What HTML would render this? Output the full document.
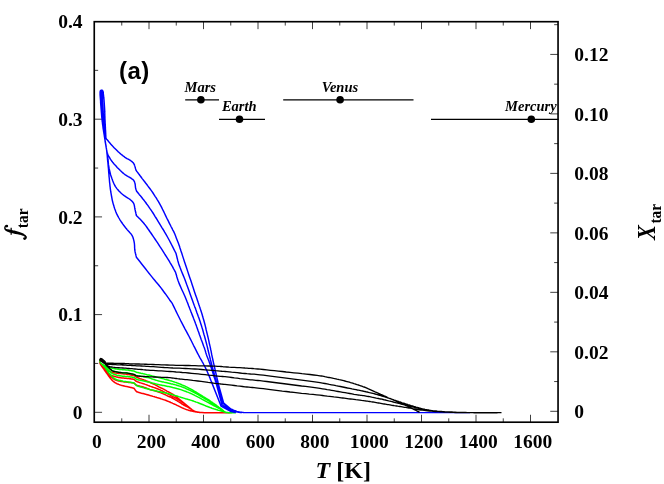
<!DOCTYPE html>
<html><head><meta charset="utf-8"><title>chart</title>
<style>
html,body{margin:0;padding:0;background:#fff;}
svg{display:block;will-change:transform;}
text{font-family:"Liberation Serif",serif;font-weight:bold;fill:#000;}
.sans{font-family:"Liberation Sans",sans-serif;}
</style></head><body>
<svg width="664" height="484" viewBox="0 0 664 484">
<rect width="664" height="484" fill="#fff"/>
<path d="M121.75 21.7v3.85M121.75 422.2v-3.85M149.00 21.7v7.45M149.00 422.2v-7.45M176.25 21.7v3.85M176.25 422.2v-3.85M203.50 21.7v7.45M203.50 422.2v-7.45M230.75 21.7v3.85M230.75 422.2v-3.85M258.00 21.7v7.45M258.00 422.2v-7.45M285.25 21.7v3.85M285.25 422.2v-3.85M312.50 21.7v7.45M312.50 422.2v-7.45M339.75 21.7v3.85M339.75 422.2v-3.85M367.00 21.7v7.45M367.00 422.2v-7.45M394.25 21.7v3.85M394.25 422.2v-3.85M421.50 21.7v7.45M421.50 422.2v-7.45M448.75 21.7v3.85M448.75 422.2v-3.85M476.00 21.7v7.45M476.00 422.2v-7.45M503.25 21.7v3.85M503.25 422.2v-3.85M530.50 21.7v7.45M530.50 422.2v-7.45M94.25 412.30h7.8M94.25 363.45h3.9M94.25 314.60h7.8M94.25 265.75h3.9M94.25 216.90h7.8M94.25 168.05h3.9M94.25 119.20h7.8M94.25 70.35h3.9M558.05 411.30h-7.8M558.05 381.56h-3.9M558.05 351.82h-7.8M558.05 322.08h-3.9M558.05 292.34h-7.8M558.05 262.60h-3.9M558.05 232.86h-7.8M558.05 203.12h-3.9M558.05 173.38h-7.8M558.05 143.64h-3.9M558.05 113.90h-7.8M558.05 84.16h-3.9M558.05 54.42h-7.8M558.05 24.68h-3.9" stroke="#000" stroke-width="0.75" fill="none"/>
<path d="M100.0 360.0L100.0 360.4L100.0 360.9L99.9 361.3L99.9 361.7L99.9 362.2L99.9 362.6L100.0 363.0L100.1 363.4L100.3 363.8L100.5 364.2L100.8 364.5L101.1 364.9L101.4 365.2L101.7 365.6L102.1 365.9L102.4 366.2L102.8 366.5L103.1 366.8L103.5 367.1L103.9 367.4L104.3 367.7L104.7 368.0L105.1 368.3L105.5 368.6L105.9 368.9L106.4 369.2L106.8 369.5L107.2 369.9L107.7 370.2L108.1 370.5L108.6 370.7L109.0 371.0L109.4 371.2L109.9 371.4L110.3 371.6L110.7 371.8L111.2 372.0L111.6 372.1L112.1 372.3L112.5 372.4L112.9 372.5L113.3 372.6L113.6 372.7L114.0 372.7L114.4 372.8L114.8 372.9L115.2 372.9L115.6 373.0L116.3 373.1L117.0 373.2L117.8 373.3L118.6 373.4L119.4 373.4L120.2 373.5L121.0 373.6L121.8 373.7L122.5 373.8L123.1 373.8L123.8 373.9L124.5 374.0L125.1 374.1L125.8 374.1L126.4 374.2L127.0 374.3L127.5 374.4L128.1 374.5L128.6 374.6L129.1 374.6L129.6 374.7L130.1 374.8L130.5 374.9L131.0 375.0L131.4 375.1L131.8 375.2L132.2 375.2L132.5 375.3L132.9 375.4L133.3 375.5L133.6 375.5L134.0 375.6L134.2 375.7L134.3 375.8L134.5 375.9L134.7 376.0L134.8 376.1L135.0 376.2L135.1 376.3L135.3 376.4L135.5 376.5L135.6 376.6L135.8 376.7L135.9 376.8L136.1 376.9L136.2 377.0L136.4 377.1L136.5 377.2L136.9 377.4L137.3 377.5L137.8 377.7L138.2 377.9L138.6 378.1L139.0 378.2L139.5 378.4L140.0 378.6L140.7 378.9L141.5 379.1L142.4 379.4L143.3 379.7L144.1 380.0L145.0 380.3L145.8 380.6L146.5 380.9L147.0 381.1L147.4 381.3L147.9 381.5L148.3 381.7L148.7 381.9L149.1 382.1L149.5 382.3L150.0 382.5L150.6 382.7L151.1 383.0L151.7 383.2L152.3 383.5L153.0 383.8L153.6 384.0L154.2 384.3L154.8 384.6L155.5 384.9L156.1 385.3L156.8 385.7L157.5 386.1L158.1 386.5L158.8 386.9L159.4 387.2L160.0 387.5L160.4 387.7L160.8 387.9L161.2 388.0L161.5 388.1L161.9 388.3L162.2 388.4L162.6 388.6L163.0 388.8L163.6 389.1L164.1 389.4L164.8 389.8L165.4 390.2L166.0 390.5L166.6 390.9L167.2 391.3L167.8 391.6L168.3 391.8L168.7 392.1L169.2 392.3L169.6 392.5L170.0 392.7L170.4 392.9L170.9 393.2L171.3 393.4L171.8 393.7L172.2 393.9L172.7 394.2L173.1 394.5L173.6 394.8L174.0 395.1L174.5 395.4L174.9 395.7L192.2 409.8L192.5 410.0L192.8 410.2L193.0 410.4L193.3 410.5L193.6 410.7L193.9 410.9L194.2 411.1L194.5 411.2L194.9 411.4L195.3 411.5L195.7 411.6L196.2 411.7L196.6 411.8L197.1 411.9L197.5 412.0L198.0 412.1L198.5 412.2L198.9 412.3L199.3 412.3L199.7 412.4L200.2 412.5L200.7 412.5L201.3 412.6L202.0 412.6L204.4 412.8L207.5 412.8L211.2 412.8L215.3 412.8L219.5 412.7L223.8 412.7L228.1 412.7L232.0 412.6 M100.0 360.0L100.0 360.4L100.0 360.9L100.0 361.3L99.9 361.7L99.9 362.2L99.9 362.6L100.0 363.0L100.1 363.4L100.3 363.8L100.5 364.2L100.8 364.6L101.1 365.0L101.4 365.4L101.7 365.8L102.1 366.2L102.4 366.6L102.7 367.0L103.1 367.4L103.4 367.8L103.8 368.2L104.2 368.6L104.6 369.0L104.9 369.4L105.3 369.8L105.7 370.2L106.1 370.7L106.5 371.1L106.9 371.6L107.3 372.0L107.7 372.4L108.1 372.8L108.5 373.2L108.9 373.5L109.3 373.9L109.8 374.2L110.2 374.5L110.6 374.8L111.1 375.1L111.5 375.4L112.0 375.6L112.4 375.8L112.9 376.0L113.3 376.1L113.7 376.2L114.2 376.3L114.6 376.5L115.1 376.6L115.6 376.7L116.3 376.9L117.0 377.0L117.8 377.2L118.6 377.4L119.4 377.5L120.2 377.7L121.0 377.8L121.8 377.9L122.5 378.0L123.1 378.1L123.8 378.1L124.5 378.2L125.1 378.2L125.8 378.3L126.4 378.3L127.0 378.4L127.5 378.5L128.1 378.5L128.6 378.6L129.1 378.6L129.6 378.7L130.1 378.8L130.5 378.8L131.0 378.9L131.4 379.0L131.8 379.0L132.2 379.1L132.5 379.1L132.9 379.2L133.3 379.3L133.6 379.3L134.0 379.4L134.2 379.5L134.3 379.7L134.5 379.8L134.7 380.0L134.8 380.1L135.0 380.2L135.1 380.4L135.3 380.5L135.5 380.6L135.6 380.8L135.8 380.9L135.9 381.0L136.1 381.1L136.2 381.3L136.4 381.4L136.5 381.5L136.9 381.6L137.4 381.8L137.8 381.9L138.2 382.1L138.6 382.2L139.1 382.4L139.5 382.5L140.0 382.7L140.7 382.9L141.4 383.1L142.2 383.4L143.0 383.6L143.8 383.9L144.6 384.1L145.3 384.4L146.0 384.6L146.5 384.8L147.1 385.0L147.5 385.2L148.0 385.4L148.5 385.6L149.0 385.8L149.5 386.0L150.0 386.2L150.6 386.4L151.2 386.6L151.8 386.8L152.4 387.0L153.0 387.2L153.6 387.4L154.2 387.6L154.8 387.8L155.4 388.0L156.1 388.3L156.7 388.5L157.3 388.8L158.0 389.0L158.6 389.3L159.3 389.6L160.0 389.9L160.9 390.3L161.9 390.8L163.0 391.3L164.0 391.8L165.1 392.4L166.1 392.9L167.0 393.4L167.8 393.8L168.3 394.1L168.7 394.3L169.1 394.5L169.5 394.7L169.8 394.9L170.2 395.1L170.6 395.4L171.0 395.6L171.5 395.9L172.1 396.2L172.7 396.5L173.3 396.8L173.9 397.1L174.5 397.5L175.1 397.8L175.7 398.1L176.3 398.4L176.8 398.7L177.3 399.0L177.9 399.3L178.4 399.6L178.9 400.0L179.5 400.3L180.0 400.6L180.5 400.9L181.0 401.3L181.5 401.6L182.0 401.9L182.5 402.3L183.0 402.6L183.5 403.0L184.0 403.3L192.2 409.8L192.5 410.0L192.8 410.2L193.0 410.4L193.3 410.5L193.6 410.7L193.9 410.9L194.2 411.1L194.5 411.2L194.9 411.4L195.3 411.5L195.7 411.6L196.2 411.7L196.6 411.8L197.1 411.9L197.5 412.0L198.0 412.1L198.5 412.2L198.9 412.3L199.3 412.3L199.7 412.4L200.2 412.5L200.7 412.5L201.3 412.6L202.0 412.6L204.4 412.8L207.5 412.8L211.2 412.8L215.3 412.8L219.5 412.7L223.8 412.7L228.1 412.7L232.0 412.6 M100.0 360.0L100.0 360.4L100.0 360.9L99.9 361.3L99.9 361.7L99.9 362.2L99.9 362.6L100.0 363.0L100.1 363.4L100.3 363.8L100.5 364.2L100.8 364.6L101.1 365.0L101.5 365.4L101.9 365.8L102.2 366.2L102.6 366.6L103.0 367.1L103.5 367.5L103.9 368.0L104.4 368.4L104.9 368.9L105.4 369.3L105.9 369.8L106.3 370.3L106.7 370.8L107.1 371.4L107.5 371.9L107.9 372.5L108.2 373.0L108.6 373.6L109.0 374.1L109.4 374.6L109.8 375.1L110.2 375.5L110.5 376.0L110.9 376.4L111.3 376.8L111.7 377.3L112.1 377.6L112.5 378.0L112.9 378.3L113.2 378.6L113.6 378.9L113.9 379.1L114.3 379.3L114.7 379.6L115.1 379.8L115.6 380.0L116.3 380.3L117.0 380.5L117.8 380.7L118.6 380.9L119.4 381.0L120.2 381.2L121.0 381.4L121.8 381.5L122.5 381.6L123.1 381.7L123.8 381.8L124.5 381.9L125.1 382.0L125.8 382.1L126.4 382.1L127.0 382.2L127.5 382.3L128.1 382.3L128.6 382.4L129.1 382.4L129.6 382.4L130.1 382.5L130.5 382.5L131.0 382.6L131.4 382.7L131.8 382.7L132.2 382.8L132.5 382.8L132.9 382.9L133.3 383.0L133.6 383.0L134.0 383.1L134.2 383.2L134.3 383.4L134.5 383.5L134.7 383.6L134.8 383.8L135.0 383.9L135.1 384.1L135.3 384.2L135.5 384.3L135.6 384.5L135.8 384.6L135.9 384.7L136.1 384.9L136.2 385.0L136.4 385.2L136.5 385.3L136.9 385.4L137.4 385.5L137.8 385.6L138.2 385.7L138.6 385.8L139.1 385.9L139.5 386.1L140.0 386.2L140.7 386.4L141.5 386.6L142.3 386.8L143.1 387.0L143.9 387.3L144.7 387.5L145.5 387.8L146.2 388.0L146.7 388.2L147.2 388.4L147.7 388.6L148.1 388.8L148.6 389.0L149.0 389.2L149.5 389.4L150.0 389.6L150.6 389.8L151.2 389.9L151.8 390.1L152.4 390.2L153.0 390.4L153.6 390.5L154.2 390.6L154.8 390.8L155.3 390.9L155.8 391.1L156.2 391.2L156.7 391.4L157.1 391.5L157.6 391.7L158.1 391.8L158.6 392.0L159.3 392.3L160.1 392.6L160.9 392.9L161.8 393.2L162.6 393.5L163.4 393.9L164.1 394.2L164.8 394.5L165.2 394.7L165.6 394.9L166.0 395.1L166.4 395.3L166.7 395.5L167.1 395.7L167.4 395.9L167.8 396.1L168.2 396.3L168.6 396.4L169.0 396.6L169.4 396.7L169.8 396.9L170.2 397.0L170.6 397.2L171.0 397.4L171.6 397.7L172.1 398.0L172.7 398.3L173.3 398.6L173.9 399.0L174.5 399.3L175.1 399.7L175.7 400.0L176.3 400.3L176.8 400.6L177.4 401.0L177.9 401.3L178.4 401.6L179.0 401.9L179.5 402.3L180.0 402.6L180.5 402.9L180.9 403.2L181.3 403.5L181.8 403.8L182.2 404.1L182.6 404.4L183.1 404.7L183.5 405.0L183.9 405.2L184.4 405.5L184.8 405.7L185.2 405.9L185.7 406.1L186.1 406.3L186.6 406.5L187.0 406.7L192.2 409.8L192.5 410.0L192.8 410.2L193.0 410.4L193.3 410.5L193.6 410.7L193.9 410.9L194.2 411.1L194.5 411.2L194.9 411.4L195.3 411.5L195.7 411.6L196.2 411.7L196.6 411.8L197.1 411.9L197.5 412.0L198.0 412.1L198.5 412.2L198.9 412.3L199.3 412.3L199.7 412.4L200.2 412.5L200.7 412.5L201.3 412.6L202.0 412.6L204.4 412.8L207.5 412.8L211.2 412.8L215.3 412.8L219.5 412.7L223.8 412.7L228.1 412.7L232.0 412.6 M100.0 360.0L100.0 360.4L100.0 360.8L100.0 361.3L99.9 361.7L99.9 362.1L99.9 362.5L100.0 363.0L100.1 363.4L100.3 364.0L100.6 364.6L101.0 365.2L101.4 365.8L101.9 366.5L102.3 367.1L102.8 367.7L103.2 368.3L103.6 368.9L104.0 369.4L104.4 370.0L104.7 370.5L105.1 371.1L105.5 371.6L105.9 372.2L106.3 372.7L106.7 373.2L107.1 373.8L107.5 374.3L107.8 374.9L108.2 375.4L108.6 376.0L109.0 376.5L109.4 377.0L109.8 377.5L110.2 378.0L110.5 378.5L110.9 378.9L111.3 379.4L111.7 379.9L112.1 380.3L112.5 380.7L112.9 381.0L113.2 381.4L113.6 381.7L114.0 382.0L114.4 382.2L114.8 382.5L115.2 382.8L115.6 383.0L116.0 383.2L116.4 383.4L116.7 383.6L117.1 383.8L117.5 383.9L117.9 384.1L118.3 384.2L118.7 384.4L119.2 384.6L119.7 384.8L120.2 384.9L120.7 385.1L121.2 385.3L121.8 385.4L122.3 385.6L122.8 385.7L123.3 385.8L123.8 386.0L124.4 386.1L124.9 386.2L125.4 386.3L126.0 386.4L126.5 386.5L127.0 386.6L127.5 386.7L128.0 386.8L128.5 386.9L129.0 387.0L129.5 387.2L130.0 387.3L130.5 387.4L131.0 387.5L131.4 387.6L131.8 387.7L132.2 387.8L132.5 387.9L132.9 388.0L133.3 388.1L133.6 388.2L134.0 388.3L134.2 388.5L134.3 388.8L134.5 389.0L134.7 389.2L134.8 389.4L135.0 389.7L135.1 389.9L135.3 390.1L135.5 390.3L135.6 390.5L135.8 390.7L135.9 390.9L136.1 391.1L136.2 391.3L136.4 391.5L136.5 391.7L136.9 391.8L137.4 392.0L137.8 392.1L138.2 392.2L138.6 392.4L139.1 392.5L139.5 392.7L140.0 392.8L140.7 393.0L141.5 393.2L142.3 393.4L143.1 393.6L143.9 393.8L144.7 394.0L145.5 394.2L146.2 394.4L146.7 394.5L147.2 394.7L147.7 394.8L148.2 395.0L148.7 395.1L149.1 395.2L149.6 395.4L150.0 395.5L150.3 395.6L150.6 395.7L150.9 395.8L151.2 395.8L151.4 395.9L151.7 396.0L152.1 396.1L152.4 396.2L153.0 396.4L153.7 396.6L154.5 396.8L155.2 397.0L156.1 397.2L156.9 397.5L157.7 397.7L158.6 398.0L159.7 398.3L160.8 398.7L162.0 399.1L163.1 399.5L164.3 399.9L165.5 400.3L166.7 400.8L167.8 401.2L168.8 401.6L169.8 402.0L170.8 402.5L171.8 402.9L172.8 403.4L173.7 403.8L174.7 404.2L175.7 404.7L176.7 405.2L177.7 405.6L178.7 406.1L179.7 406.6L180.7 407.1L181.7 407.6L182.6 408.0L183.5 408.4L184.1 408.7L184.7 408.9L185.3 409.1L185.9 409.4L186.4 409.6L186.9 409.7L187.5 409.9L188.0 410.1L188.4 410.2L188.9 410.4L189.3 410.5L189.7 410.6L190.1 410.7L190.5 410.8L190.9 410.9L191.4 411.0L192.0 411.1L192.7 411.3L193.4 411.4L194.1 411.6L194.9 411.7L195.6 411.9L196.3 412.0L197.0 412.1L197.6 412.2L198.3 412.3L198.9 412.3L199.5 412.4L200.1 412.5L200.8 412.5L201.4 412.6L202.0 412.6" fill="none" stroke="#ff0000" stroke-width="1.5" stroke-linejoin="round" stroke-linecap="butt"/>
<path d="M100.0 359.8L100.0 360.2L100.0 360.5L100.0 360.9L100.1 361.3L100.1 361.6L100.1 362.0L100.2 362.3L100.3 362.6L100.4 362.8L100.6 363.0L100.8 363.2L100.9 363.4L101.2 363.5L101.4 363.7L101.6 363.8L101.8 364.0L102.0 364.2L102.3 364.3L102.6 364.5L102.9 364.6L103.1 364.8L103.4 364.9L103.7 365.1L104.0 365.2L104.3 365.3L104.6 365.5L104.9 365.6L105.2 365.8L105.5 365.9L105.9 366.0L106.2 366.2L106.5 366.3L106.8 366.4L107.2 366.6L107.6 366.7L107.9 366.9L108.3 367.0L108.7 367.1L109.0 367.3L109.4 367.4L109.8 367.5L110.2 367.6L110.6 367.8L110.9 367.9L111.3 368.0L111.7 368.1L112.1 368.2L112.5 368.3L112.9 368.4L113.2 368.5L113.6 368.5L114.0 368.6L114.4 368.7L114.7 368.8L115.2 368.8L115.6 368.9L116.3 369.0L117.0 369.1L117.8 369.2L118.6 369.3L119.4 369.4L120.2 369.4L121.0 369.5L121.8 369.6L122.5 369.7L123.1 369.7L123.8 369.8L124.5 369.8L125.1 369.8L125.8 369.9L126.4 369.9L127.0 370.0L127.5 370.1L128.1 370.1L128.6 370.2L129.1 370.3L129.6 370.4L130.1 370.4L130.5 370.5L131.0 370.6L131.4 370.7L131.8 370.7L132.2 370.8L132.5 370.9L132.9 370.9L133.3 371.0L133.6 371.0L134.0 371.1L134.2 371.2L134.3 371.2L134.5 371.3L134.7 371.4L134.8 371.5L135.0 371.5L135.1 371.6L135.3 371.7L135.5 371.8L135.6 371.8L135.8 371.9L135.9 372.0L136.1 372.1L136.2 372.1L136.4 372.2L136.5 372.3L136.9 372.4L137.3 372.5L137.8 372.5L138.2 372.6L138.6 372.7L139.0 372.8L139.5 372.9L140.0 373.0L140.8 373.2L141.8 373.4L142.8 373.6L143.8 373.9L144.9 374.1L146.0 374.4L147.0 374.7L148.0 374.9L148.9 375.1L149.8 375.3L150.6 375.6L151.5 375.8L152.3 376.0L153.2 376.2L154.0 376.4L154.8 376.6L155.5 376.8L156.1 376.9L156.8 377.1L157.4 377.2L158.0 377.4L158.6 377.6L159.3 377.7L160.0 377.9L160.9 378.1L161.8 378.4L162.8 378.6L163.8 378.9L164.8 379.2L165.8 379.4L166.8 379.7L167.8 380.0L168.8 380.3L169.8 380.6L170.8 380.9L171.8 381.1L172.7 381.4L173.7 381.7L174.7 382.1L175.7 382.4L176.7 382.8L177.7 383.1L178.6 383.5L179.6 383.9L180.6 384.3L181.6 384.7L182.5 385.1L183.5 385.5L184.5 385.9L185.5 386.4L186.5 386.9L187.5 387.4L188.5 387.9L189.4 388.4L190.4 388.9L191.4 389.4L192.4 389.9L193.3 390.5L194.3 391.1L195.2 391.6L196.2 392.2L197.2 392.8L198.2 393.5L199.2 394.1L200.5 394.9L201.8 395.7L203.2 396.6L204.6 397.4L206.1 398.3L207.4 399.1L208.8 400.0L210.0 400.8L211.0 401.5L211.9 402.1L212.8 402.8L213.7 403.4L214.6 404.0L215.4 404.6L216.2 405.2L217.0 405.8L217.6 406.2L218.1 406.7L218.6 407.1L219.1 407.5L219.6 407.9L220.1 408.2L220.5 408.6L221.0 409.0L221.4 409.3L221.8 409.7L222.2 410.0L222.6 410.4L223.0 410.7L223.4 411.0L223.8 411.3L224.2 411.5L224.6 411.7L225.0 411.9L225.3 412.1L225.7 412.2L226.1 412.3L226.5 412.5L227.0 412.6L227.5 412.6L228.4 412.8L229.3 412.8L230.4 412.8L231.5 412.8L232.6 412.7L233.8 412.7L234.9 412.7L236.0 412.6 M100.0 359.8L100.0 360.2L100.0 360.5L100.0 360.9L100.1 361.3L100.1 361.6L100.1 362.0L100.2 362.3L100.3 362.6L100.4 362.8L100.6 363.0L100.8 363.2L101.0 363.4L101.2 363.5L101.4 363.7L101.6 363.8L101.8 364.0L102.0 364.2L102.3 364.4L102.6 364.6L102.9 364.8L103.1 365.0L103.4 365.2L103.7 365.4L104.0 365.6L104.3 365.8L104.6 366.0L104.9 366.1L105.2 366.3L105.5 366.5L105.9 366.6L106.2 366.8L106.5 367.0L106.9 367.2L107.2 367.5L107.6 367.7L107.9 368.0L108.3 368.2L108.7 368.5L109.0 368.8L109.4 369.0L109.8 369.2L110.2 369.5L110.5 369.7L110.9 370.0L111.3 370.2L111.7 370.4L112.1 370.6L112.5 370.8L112.9 371.0L113.2 371.1L113.6 371.2L114.0 371.3L114.3 371.4L114.7 371.5L115.2 371.6L115.6 371.7L116.3 371.8L117.0 372.0L117.8 372.1L118.6 372.3L119.4 372.4L120.2 372.5L121.0 372.6L121.8 372.7L122.5 372.8L123.1 372.8L123.8 372.9L124.5 372.9L125.1 372.9L125.8 373.0L126.4 373.0L127.0 373.1L127.5 373.2L128.1 373.2L128.6 373.3L129.1 373.4L129.6 373.5L130.1 373.6L130.5 373.7L131.0 373.8L131.4 373.9L131.8 374.0L132.2 374.1L132.5 374.1L132.9 374.2L133.3 374.3L133.6 374.4L134.0 374.5L134.2 374.6L134.3 374.6L134.5 374.7L134.7 374.8L134.8 374.9L135.0 374.9L135.1 375.0L135.3 375.1L135.5 375.2L135.6 375.3L135.8 375.4L135.9 375.4L136.1 375.5L136.2 375.6L136.4 375.7L136.5 375.8L136.9 375.8L137.3 375.9L137.8 375.9L138.2 376.0L138.6 376.0L139.0 376.1L139.5 376.1L140.0 376.2L140.9 376.3L141.8 376.5L142.8 376.6L143.8 376.8L144.9 377.0L146.0 377.2L147.0 377.4L148.0 377.6L148.9 377.8L149.8 378.1L150.6 378.4L151.5 378.7L152.3 379.0L153.2 379.3L154.0 379.5L154.8 379.8L155.5 380.0L156.1 380.2L156.8 380.4L157.4 380.6L158.0 380.8L158.6 380.9L159.3 381.1L160.0 381.3L160.9 381.5L161.8 381.7L162.8 381.9L163.8 382.1L164.8 382.4L165.8 382.6L166.8 382.8L167.8 383.0L168.8 383.2L169.8 383.4L170.8 383.7L171.8 383.9L172.7 384.1L173.7 384.4L174.7 384.6L175.7 384.9L176.7 385.2L177.7 385.5L178.6 385.8L179.6 386.1L180.6 386.4L181.6 386.8L182.5 387.1L183.5 387.5L184.5 387.9L185.5 388.3L186.5 388.8L187.5 389.3L188.5 389.7L189.4 390.2L190.4 390.7L191.4 391.2L192.4 391.7L193.3 392.2L194.3 392.7L195.2 393.2L196.2 393.7L197.2 394.2L198.2 394.7L199.2 395.3L200.5 396.0L201.8 396.8L203.2 397.6L204.7 398.5L206.1 399.3L207.4 400.1L208.8 400.9L210.0 401.7L211.0 402.3L211.9 402.9L212.8 403.5L213.7 404.0L214.5 404.6L215.4 405.1L216.2 405.7L217.0 406.2L217.7 406.6L218.4 407.0L219.0 407.4L219.7 407.8L220.3 408.2L220.9 408.6L221.5 409.0L222.0 409.4L222.3 409.7L222.6 410.0L222.9 410.3L223.1 410.6L223.4 410.9L223.6 411.1L223.9 411.4L224.2 411.6L224.6 411.8L224.9 412.0L225.3 412.1L225.7 412.3L226.1 412.4L226.5 412.5L227.0 412.6L227.5 412.6L228.4 412.7L229.3 412.8L230.4 412.8L231.5 412.8L232.6 412.7L233.8 412.7L234.9 412.7L236.0 412.6 M100.0 359.8L100.0 360.2L100.0 360.5L100.0 360.9L100.1 361.3L100.1 361.6L100.1 362.0L100.2 362.3L100.3 362.6L100.4 362.8L100.6 363.0L100.8 363.2L101.0 363.3L101.2 363.5L101.4 363.6L101.6 363.8L101.8 364.0L102.0 364.2L102.2 364.5L102.4 364.7L102.7 365.0L102.9 365.2L103.1 365.5L103.4 365.7L103.6 366.0L103.9 366.3L104.2 366.6L104.6 367.0L104.9 367.3L105.2 367.6L105.6 368.0L105.9 368.3L106.3 368.6L106.7 368.9L107.1 369.2L107.4 369.6L107.8 369.9L108.2 370.2L108.6 370.5L109.0 370.8L109.4 371.1L109.8 371.4L110.2 371.8L110.5 372.1L110.9 372.4L111.3 372.8L111.7 373.1L112.1 373.3L112.5 373.6L112.9 373.8L113.2 374.0L113.6 374.1L114.0 374.3L114.3 374.4L114.7 374.5L115.2 374.7L115.6 374.8L116.3 375.0L117.0 375.2L117.8 375.4L118.6 375.5L119.4 375.7L120.2 375.8L121.0 376.0L121.8 376.1L122.5 376.2L123.1 376.2L123.8 376.3L124.5 376.3L125.1 376.4L125.8 376.4L126.4 376.4L127.0 376.5L127.5 376.6L128.1 376.6L128.6 376.7L129.1 376.7L129.6 376.8L130.1 376.9L130.5 376.9L131.0 377.0L131.4 377.1L131.8 377.1L132.2 377.2L132.5 377.2L132.9 377.3L133.3 377.4L133.6 377.4L134.0 377.5L134.2 377.6L134.3 377.7L134.5 377.8L134.7 377.9L134.8 378.1L135.0 378.2L135.1 378.3L135.3 378.4L135.5 378.5L135.6 378.6L135.8 378.8L135.9 378.9L136.1 379.0L136.2 379.1L136.4 379.3L136.5 379.4L136.9 379.5L137.3 379.6L137.7 379.7L138.2 379.8L138.6 379.9L139.0 380.0L139.5 380.1L140.0 380.2L140.8 380.4L141.8 380.6L142.8 380.8L143.8 381.0L144.9 381.2L146.0 381.5L147.0 381.7L148.0 381.9L148.9 382.1L149.8 382.3L150.6 382.5L151.5 382.8L152.3 383.0L153.2 383.2L154.0 383.4L154.8 383.6L155.5 383.8L156.1 383.9L156.8 384.1L157.4 384.3L158.0 384.4L158.6 384.6L159.3 384.7L160.0 384.9L160.9 385.1L161.8 385.3L162.8 385.5L163.8 385.6L164.8 385.8L165.8 386.0L166.8 386.2L167.8 386.4L168.8 386.6L169.8 386.8L170.8 387.0L171.8 387.2L172.7 387.5L173.7 387.7L174.7 387.9L175.7 388.2L176.7 388.5L177.7 388.7L178.6 389.0L179.6 389.3L180.6 389.6L181.6 389.9L182.5 390.3L183.5 390.6L184.5 391.0L185.5 391.3L186.5 391.7L187.5 392.1L188.5 392.4L189.4 392.9L190.4 393.3L191.4 393.7L192.4 394.2L193.3 394.6L194.3 395.1L195.2 395.6L196.2 396.1L197.2 396.6L198.2 397.2L199.2 397.7L200.5 398.4L201.8 399.1L203.2 399.8L204.6 400.6L206.0 401.4L207.4 402.1L208.8 402.8L210.0 403.5L211.0 404.0L211.9 404.5L212.8 405.0L213.7 405.5L214.5 406.0L215.4 406.4L216.2 406.9L217.0 407.3L217.7 407.7L218.4 408.0L219.0 408.3L219.7 408.6L220.3 409.0L220.9 409.3L221.5 409.6L222.0 409.9L222.3 410.1L222.6 410.4L222.9 410.6L223.1 410.9L223.4 411.1L223.6 411.3L223.9 411.5L224.2 411.7L224.6 411.9L224.9 412.0L225.3 412.2L225.7 412.3L226.1 412.4L226.5 412.5L227.0 412.6L227.5 412.6L228.4 412.7L229.3 412.8L230.4 412.8L231.5 412.8L232.6 412.7L233.8 412.7L234.9 412.7L236.0 412.6 M100.0 359.8L100.0 360.2L100.0 360.5L100.0 360.9L100.1 361.3L100.1 361.6L100.1 362.0L100.2 362.3L100.3 362.6L100.4 362.8L100.6 363.0L100.8 363.2L101.0 363.4L101.2 363.5L101.4 363.7L101.6 363.9L101.8 364.0L102.0 364.1L102.1 364.2L102.3 364.3L102.5 364.4L102.7 364.5L102.8 364.6L103.0 364.7L103.2 364.9L103.6 365.3L103.9 365.8L104.3 366.3L104.7 366.9L105.1 367.5L105.5 368.1L105.9 368.7L106.3 369.3L106.7 369.8L107.1 370.4L107.5 370.9L107.8 371.5L108.2 372.0L108.6 372.6L109.0 373.1L109.4 373.6L109.8 374.1L110.2 374.5L110.5 375.0L110.9 375.4L111.3 375.8L111.7 376.2L112.1 376.6L112.5 377.0L112.9 377.3L113.2 377.6L113.6 377.9L113.9 378.2L114.3 378.5L114.7 378.7L115.1 379.0L115.6 379.2L116.3 379.5L117.0 379.8L117.8 380.0L118.6 380.2L119.4 380.4L120.2 380.6L121.0 380.8L121.8 381.0L122.5 381.1L123.1 381.3L123.8 381.4L124.5 381.5L125.1 381.5L125.8 381.6L126.4 381.7L127.0 381.8L127.5 381.9L128.1 382.0L128.6 382.0L129.1 382.1L129.6 382.2L130.1 382.2L130.5 382.3L131.0 382.4L131.4 382.5L131.8 382.5L132.2 382.6L132.5 382.7L132.9 382.8L133.3 382.8L133.6 382.9L134.0 383.0L134.2 383.2L134.3 383.3L134.5 383.5L134.7 383.6L134.8 383.8L135.0 384.0L135.1 384.1L135.3 384.3L135.5 384.5L135.6 384.6L135.8 384.8L135.9 384.9L136.1 385.1L136.2 385.3L136.4 385.4L136.5 385.6L136.9 385.7L137.3 385.9L137.7 386.0L138.2 386.2L138.6 386.3L139.0 386.5L139.5 386.6L140.0 386.8L140.8 387.1L141.8 387.3L142.8 387.6L143.8 387.9L144.9 388.2L146.0 388.5L147.0 388.7L148.0 389.0L148.9 389.2L149.8 389.5L150.6 389.7L151.5 389.9L152.3 390.1L153.2 390.3L154.0 390.5L154.8 390.7L155.5 390.9L156.1 391.0L156.8 391.1L157.4 391.3L158.0 391.4L158.6 391.5L159.3 391.7L160.0 391.8L160.9 392.0L161.8 392.2L162.8 392.4L163.8 392.5L164.8 392.7L165.8 392.9L166.8 393.2L167.8 393.4L168.8 393.7L169.8 393.9L170.8 394.2L171.8 394.5L172.7 394.8L173.7 395.1L174.7 395.4L175.7 395.7L176.7 396.0L177.7 396.3L178.6 396.6L179.6 396.9L180.6 397.2L181.5 397.5L182.5 397.8L183.5 398.1L184.5 398.4L185.5 398.7L186.5 398.9L187.5 399.2L188.4 399.5L189.4 399.8L190.4 400.1L191.4 400.4L192.4 400.7L193.3 401.0L194.3 401.4L195.2 401.7L196.2 402.1L197.2 402.4L198.2 402.8L199.2 403.2L200.5 403.7L201.8 404.2L203.2 404.8L204.6 405.4L206.0 406.0L207.4 406.5L208.7 407.0L210.0 407.5L211.0 407.8L211.9 408.2L212.8 408.5L213.7 408.8L214.5 409.0L215.4 409.3L216.2 409.6L217.0 409.8L217.7 410.0L218.3 410.2L219.0 410.4L219.7 410.6L220.3 410.7L220.9 410.9L221.5 411.0L222.0 411.2L222.4 411.3L222.7 411.4L223.0 411.5L223.3 411.6L223.6 411.7L223.9 411.8L224.2 411.9L224.5 412.0L224.8 412.1L225.2 412.2L225.5 412.3L225.9 412.4L226.2 412.5L226.6 412.5L227.0 412.6L227.5 412.6L228.4 412.7L229.3 412.7L230.4 412.7L231.5 412.7L232.6 412.7L233.8 412.7L234.9 412.7L236.0 412.6" fill="none" stroke="#00ff00" stroke-width="1.5" stroke-linejoin="round" stroke-linecap="butt"/>
<path d="M101.2 90.2L101.4 90.2L101.6 90.3L101.8 90.3L101.9 90.3L102.1 90.3L102.3 90.4L102.5 90.5L102.6 90.6L102.8 91.0L103.0 91.5L103.2 92.1L103.3 92.8L103.3 93.6L103.4 94.4L103.5 95.2L103.6 96.0L103.7 97.2L103.9 98.5L104.0 99.8L104.1 101.2L104.2 102.6L104.3 104.1L104.4 105.6L104.5 107.0L104.6 108.6L104.7 110.2L104.7 111.9L104.8 113.5L104.8 115.2L104.9 116.8L104.9 118.4L105.0 120.0L105.1 121.3L105.1 122.6L105.2 123.9L105.3 125.1L105.3 126.4L105.4 127.6L105.4 128.8L105.5 130.0L105.6 131.1L105.6 132.1L105.7 133.1L105.7 134.2L105.8 135.2L105.8 136.2L105.9 137.2L105.9 138.2L106.7 139.2L107.6 140.2L108.4 141.2L109.2 142.2L110.1 143.2L110.9 144.2L111.8 145.2L112.6 146.1L113.4 146.9L114.1 147.7L114.9 148.5L115.7 149.3L116.5 150.1L117.2 150.8L118.0 151.6L118.8 152.3L119.6 153.0L120.3 153.6L121.1 154.3L121.9 154.9L122.6 155.5L123.4 156.2L124.2 156.7L125.0 157.3L125.8 157.8L126.6 158.3L127.4 158.8L128.3 159.2L129.1 159.7L129.9 160.1L130.6 160.6L131.2 161.0L131.6 161.3L132.0 161.6L132.3 161.9L132.6 162.2L132.9 162.5L133.2 162.8L133.5 163.2L133.7 163.5L133.9 163.8L134.1 164.2L134.2 164.5L134.4 164.8L134.5 165.2L134.6 165.5L134.8 165.9L134.9 166.3L135.1 166.8L135.2 167.3L135.3 167.8L135.5 168.4L135.6 168.9L135.8 169.4L135.9 169.9L136.1 170.3L136.2 170.6L136.4 170.8L136.5 171.0L136.7 171.2L136.8 171.4L137.0 171.6L137.2 171.8L137.4 172.1L137.9 172.8L138.5 173.6L139.2 174.5L139.9 175.5L140.7 176.5L141.4 177.5L142.2 178.6L143.0 179.6L143.9 180.8L144.9 182.0L145.8 183.3L146.8 184.5L147.8 185.9L148.8 187.2L149.8 188.5L150.8 189.9L151.9 191.4L153.0 193.0L154.0 194.6L155.1 196.3L156.2 197.9L157.2 199.6L158.3 201.3L159.3 203.1L160.4 205.1L161.5 207.1L162.5 209.2L163.6 211.4L164.6 213.5L165.6 215.6L166.6 217.7L167.6 219.7L168.5 221.4L169.3 223.2L170.2 224.8L171.0 226.5L171.9 228.1L172.7 229.8L173.6 231.4L174.4 233.1L175.0 234.6L175.6 236.1L176.2 237.7L176.8 239.2L177.4 240.7L178.0 242.2L178.5 243.6L179.0 245.0L179.4 246.1L179.7 247.0L180.0 248.0L180.3 248.9L180.6 249.8L180.9 250.8L181.3 251.9L181.7 253.1L182.5 255.6L183.4 258.4L184.4 261.4L185.5 264.7L186.6 268.0L187.7 271.4L188.8 274.7L189.9 277.9L191.0 281.1L192.1 284.4L193.2 287.8L194.3 291.2L195.4 294.4L196.5 297.4L197.4 300.2L198.2 302.6L198.6 303.7L198.9 304.7L199.2 305.6L199.5 306.5L199.8 307.3L200.1 308.2L200.4 309.0L200.7 310.0L201.1 311.2L201.5 312.4L201.9 313.7L202.3 315.0L202.6 316.3L203.0 317.6L203.4 319.0L203.8 320.3L204.2 321.8L204.6 323.3L205.0 324.8L205.4 326.4L205.8 328.0L206.1 329.5L206.5 331.1L206.9 332.7L207.3 334.4L207.7 336.0L208.1 337.7L208.5 339.4L208.9 341.1L209.2 342.8L209.6 344.5L210.0 346.2L210.4 347.9L210.7 349.5L211.1 351.2L211.4 352.8L211.7 354.5L212.1 356.3L212.5 358.1L212.9 360.0L213.5 362.8L214.2 365.7L214.9 368.8L215.6 372.0L216.4 375.3L217.1 378.6L217.9 381.8L218.6 385.0L223.7 403.1L231.2 409.2L232.0 409.5L232.8 409.8L233.6 410.2L234.4 410.5L235.3 410.8L236.1 411.1L236.9 411.4L237.7 411.6L238.5 411.8L239.3 411.9L240.1 412.1L240.8 412.2L241.6 412.3L242.4 412.4L243.2 412.5L244.0 412.6L470.0 412.6 M101.6 90.0L101.7 90.1L101.8 90.2L101.9 90.2L102.0 90.3L102.1 90.4L102.1 90.5L102.2 90.6L102.3 90.8L102.4 91.5L102.5 92.4L102.5 93.5L102.5 94.7L102.5 96.1L102.4 97.4L102.4 98.8L102.4 100.0L102.5 101.2L102.5 102.5L102.6 103.7L102.7 105.0L102.8 106.2L102.9 107.5L103.0 108.7L103.1 110.0L103.2 111.2L103.2 112.5L103.3 113.7L103.4 115.0L103.4 116.2L103.5 117.5L103.6 118.7L103.6 120.0L103.7 121.3L103.7 122.5L103.8 123.8L103.9 125.0L103.9 126.3L104.0 127.5L104.1 128.8L104.2 130.0L104.2 131.3L104.3 132.5L104.4 133.8L104.5 135.1L104.6 136.3L104.7 137.6L104.9 138.8L105.0 140.0L105.1 141.1L105.3 142.3L105.5 143.4L105.7 144.6L105.9 145.7L106.1 146.7L106.2 147.7L106.4 148.6L106.5 149.2L106.6 149.7L106.7 150.2L106.8 150.7L106.8 151.1L106.9 151.6L107.1 152.0L107.2 152.5L107.4 153.0L107.5 153.5L107.7 154.0L107.9 154.5L108.1 155.0L108.4 155.5L108.6 156.0L108.9 156.5L109.3 157.2L109.7 157.9L110.1 158.6L110.5 159.3L111.0 160.0L111.5 160.7L112.1 161.5L112.6 162.2L113.3 163.0L114.0 163.9L114.8 164.8L115.6 165.6L116.4 166.5L117.2 167.4L118.0 168.2L118.8 169.0L119.6 169.8L120.3 170.5L121.1 171.2L121.9 172.0L122.6 172.7L123.4 173.3L124.2 174.0L125.0 174.6L125.8 175.1L126.6 175.6L127.4 176.1L128.3 176.6L129.1 177.0L129.8 177.5L130.6 177.9L131.2 178.3L131.6 178.6L131.9 178.8L132.3 179.1L132.6 179.3L132.9 179.6L133.2 179.8L133.5 180.1L133.7 180.4L133.9 180.7L134.1 181.1L134.3 181.5L134.5 181.8L134.6 182.2L134.8 182.7L134.9 183.1L135.0 183.5L135.1 184.0L135.2 184.6L135.3 185.2L135.3 185.7L135.4 186.3L135.4 186.9L135.5 187.5L135.6 188.0L135.7 188.4L135.8 188.8L135.9 189.2L136.1 189.6L136.2 190.0L136.3 190.4L136.5 190.8L136.6 191.2L137.5 192.3L138.3 193.3L139.2 194.4L140.1 195.4L141.0 196.5L141.8 197.5L142.7 198.7L143.6 199.8L144.6 201.1L145.7 202.5L146.7 204.0L147.8 205.4L148.8 206.9L149.8 208.4L150.9 209.9L151.9 211.4L153.0 213.0L154.0 214.6L155.0 216.3L156.1 218.0L157.1 219.6L158.1 221.3L159.1 223.0L160.1 224.6L161.0 226.1L161.9 227.6L162.8 229.0L163.7 230.4L164.5 231.9L165.4 233.4L166.3 234.9L167.2 236.5L168.3 238.5L169.4 240.5L170.5 242.6L171.6 244.8L172.7 246.9L173.8 249.1L174.9 251.3L176.0 253.4L176.3 254.6L176.6 255.8L176.9 257.0L177.2 258.2L177.5 259.4L177.8 260.7L178.2 262.0L178.6 263.4L179.3 265.4L180.1 267.6L181.0 269.9L181.9 272.2L182.9 274.6L183.9 277.1L184.9 279.5L185.8 282.0L186.8 284.8L188.0 287.9L189.1 291.0L190.2 294.2L191.3 297.2L192.3 300.1L193.2 302.6L194.0 304.7L194.3 305.5L194.6 306.2L194.8 306.9L195.0 307.4L195.3 308.0L195.5 308.6L195.7 309.2L196.0 310.0L196.5 311.4L197.0 312.9L197.6 314.5L198.2 316.2L198.9 318.0L199.5 319.8L200.1 321.6L200.7 323.4L201.4 325.5L202.0 327.6L202.7 329.8L203.3 332.0L203.9 334.2L204.6 336.5L205.2 338.7L205.8 341.0L206.4 343.3L207.0 345.6L207.6 348.0L208.1 350.3L208.7 352.7L209.3 355.1L209.9 357.5L210.5 360.0L211.3 363.0L212.1 366.0L212.9 369.1L213.8 372.3L214.6 375.5L215.5 378.7L216.4 381.9L217.2 385.0L223.1 403.4L230.8 409.5L231.6 409.8L232.4 410.1L233.3 410.4L234.1 410.7L234.9 411.0L235.7 411.2L236.6 411.5L237.4 411.7L238.2 411.9L239.0 412.0L239.9 412.1L240.7 412.2L241.5 412.3L242.3 412.4L243.2 412.5L244.0 412.6 M101.6 90.0L101.6 90.1L101.5 90.2L101.5 90.3L101.5 90.3L101.4 90.4L101.4 90.5L101.4 90.7L101.4 90.8L101.3 91.5L101.3 92.4L101.3 93.5L101.3 94.7L101.3 96.1L101.4 97.4L101.4 98.8L101.5 100.0L101.5 101.2L101.6 102.5L101.7 103.7L101.8 105.0L101.9 106.2L102.0 107.5L102.1 108.7L102.2 110.0L102.2 111.3L102.3 112.5L102.4 113.8L102.5 115.0L102.6 116.3L102.7 117.5L102.8 118.8L102.9 120.0L103.0 121.3L103.1 122.5L103.2 123.8L103.3 125.0L103.4 126.3L103.5 127.5L103.6 128.8L103.8 130.0L103.9 131.3L104.1 132.5L104.2 133.8L104.4 135.0L104.5 136.3L104.7 137.6L104.8 138.8L105.0 140.0L105.2 141.1L105.3 142.2L105.5 143.3L105.7 144.3L105.9 145.4L106.0 146.4L106.2 147.5L106.4 148.6L106.6 149.8L106.8 150.9L106.9 152.1L107.1 153.3L107.3 154.5L107.5 155.6L107.6 156.8L107.8 158.0L107.9 159.2L108.1 160.3L108.2 161.4L108.3 162.6L108.4 163.7L108.5 164.9L108.7 166.0L108.9 167.2L109.1 168.4L109.4 169.7L109.7 170.9L110.0 172.2L110.3 173.4L110.6 174.7L111.0 175.9L111.4 177.1L111.8 178.3L112.3 179.6L112.7 180.8L113.2 182.0L113.7 183.2L114.3 184.4L114.8 185.5L115.5 186.6L116.2 187.6L116.9 188.6L117.7 189.6L118.5 190.5L119.4 191.4L120.3 192.3L121.2 193.2L122.1 194.0L123.1 194.8L124.2 195.6L125.3 196.3L126.4 197.1L127.5 197.8L128.6 198.5L129.6 199.1L130.4 199.8L130.9 200.2L131.4 200.6L131.8 201.0L132.2 201.4L132.5 201.7L132.9 202.2L133.2 202.6L133.5 203.1L133.8 203.8L134.1 204.6L134.3 205.4L134.5 206.3L134.6 207.2L134.8 208.1L134.9 209.0L135.1 209.8L135.3 210.5L135.4 211.3L135.6 212.0L135.8 212.7L135.9 213.4L136.1 214.1L136.2 214.8L136.4 215.5L137.3 216.4L138.2 217.3L139.1 218.2L140.0 219.1L140.9 220.0L141.8 221.0L142.7 222.0L143.6 223.0L144.6 224.3L145.7 225.6L146.7 227.0L147.7 228.5L148.8 230.0L149.8 231.5L150.9 233.0L151.9 234.5L153.0 236.1L154.2 237.8L155.3 239.5L156.4 241.2L157.6 242.9L158.7 244.6L159.8 246.4L161.0 248.2L162.3 250.2L163.7 252.3L165.0 254.5L166.4 256.7L167.8 258.8L169.1 260.9L170.2 262.8L171.3 264.6L171.9 265.7L172.5 266.7L173.0 267.6L173.5 268.6L174.0 269.5L174.5 270.4L175.0 271.3L175.5 272.2L175.9 273.4L176.2 274.6L176.6 275.8L176.9 277.0L177.3 278.2L177.7 279.4L178.1 280.7L178.6 282.0L179.3 283.9L180.2 285.9L181.1 288.0L182.1 290.2L183.1 292.3L184.1 294.5L185.0 296.5L185.8 298.5L186.4 300.0L187.0 301.5L187.6 302.9L188.1 304.3L188.6 305.7L189.2 307.1L189.7 308.5L190.3 310.0L190.9 311.6L191.6 313.3L192.2 314.9L192.9 316.6L193.5 318.3L194.2 320.0L194.9 321.7L195.5 323.4L196.2 325.2L196.8 327.0L197.5 328.9L198.1 330.7L198.8 332.6L199.4 334.4L200.1 336.2L200.7 337.9L201.2 339.4L201.8 340.9L202.4 342.4L202.9 343.9L203.4 345.4L203.9 346.8L204.4 348.1L204.8 349.3L205.1 350.1L205.3 350.8L205.5 351.5L205.7 352.2L205.9 352.9L206.1 353.5L206.3 354.3L206.6 355.0L206.9 356.0L207.3 357.0L207.7 358.0L208.1 359.0L208.5 360.1L208.9 361.1L209.3 362.2L209.7 363.3L210.1 364.5L210.5 365.7L210.9 366.9L211.4 368.2L211.8 369.4L212.2 370.7L212.6 371.9L213.0 373.2L213.4 374.5L213.8 375.8L214.2 377.2L214.7 378.5L215.1 379.9L215.5 381.2L215.9 382.6L216.3 383.9L222.0 404.8L230.4 410.2L231.2 410.4L232.1 410.7L232.9 410.9L233.8 411.2L234.6 411.4L235.4 411.6L236.2 411.8L237.0 412.0L237.7 412.1L238.3 412.2L238.9 412.3L239.5 412.4L240.2 412.4L240.8 412.5L241.4 412.6L242.0 412.6 M101.6 90.0L101.4 90.1L101.3 90.2L101.1 90.2L101.0 90.3L100.8 90.4L100.7 90.5L100.5 90.6L100.4 90.8L100.2 91.5L100.1 92.4L100.1 93.5L100.1 94.7L100.2 96.1L100.3 97.4L100.4 98.8L100.5 100.0L100.6 101.2L100.6 102.5L100.7 103.7L100.8 105.0L100.9 106.2L101.0 107.5L101.1 108.7L101.2 110.0L101.3 111.3L101.4 112.5L101.5 113.8L101.6 115.0L101.7 116.3L101.8 117.5L102.0 118.8L102.1 120.0L102.2 121.3L102.4 122.5L102.5 123.8L102.7 125.0L102.9 126.3L103.0 127.5L103.2 128.8L103.4 130.0L103.6 131.3L103.8 132.5L104.0 133.8L104.2 135.0L104.4 136.3L104.6 137.6L104.8 138.8L105.0 140.0L105.2 141.1L105.4 142.1L105.5 143.1L105.7 144.1L105.9 145.2L106.1 146.2L106.2 147.4L106.4 148.6L106.7 150.6L106.9 152.8L107.2 155.2L107.4 157.7L107.6 160.2L107.9 162.6L108.1 165.0L108.3 167.2L108.5 168.9L108.6 170.6L108.7 172.2L108.9 173.9L109.0 175.4L109.1 177.0L109.3 178.5L109.4 180.0L109.5 181.3L109.6 182.5L109.8 183.7L109.9 184.9L110.0 186.1L110.2 187.4L110.3 188.6L110.5 189.9L110.7 191.5L111.0 193.1L111.3 194.8L111.6 196.5L111.9 198.2L112.2 199.8L112.6 201.5L113.0 203.1L113.4 204.6L113.9 206.1L114.3 207.6L114.8 209.1L115.4 210.6L115.9 212.0L116.5 213.4L117.1 214.7L117.7 215.8L118.3 216.9L118.9 218.0L119.5 219.0L120.1 220.1L120.8 221.1L121.4 222.0L122.1 223.0L122.7 223.9L123.3 224.7L123.9 225.6L124.6 226.4L125.2 227.2L125.8 228.0L126.5 228.8L127.1 229.6L127.7 230.3L128.4 231.1L129.1 231.8L129.7 232.5L130.4 233.2L131.0 233.9L131.5 234.6L132.0 235.4L132.4 236.1L132.7 236.8L133.0 237.5L133.2 238.2L133.4 238.9L133.6 239.6L133.8 240.4L134.0 241.2L134.2 242.3L134.4 243.5L134.5 244.8L134.6 246.1L134.6 247.4L134.7 248.7L134.8 250.0L135.0 251.1L135.1 251.9L135.3 252.7L135.5 253.5L135.7 254.2L135.9 255.0L136.0 255.7L136.2 256.4L136.4 257.2L138.2 259.5L140.0 261.8L141.9 264.2L143.7 266.5L145.5 268.8L147.3 271.1L149.0 273.3L150.7 275.4L152.1 277.1L153.4 278.7L154.7 280.2L155.9 281.7L157.2 283.2L158.5 284.7L159.7 286.3L161.0 287.9L162.4 289.8L163.8 291.7L165.3 293.7L166.7 295.7L168.1 297.7L169.5 299.7L171.0 301.7L172.4 303.7L173.3 305.6L174.3 307.6L175.2 309.5L176.1 311.4L177.0 313.3L178.0 315.3L179.0 317.3L180.0 319.3L181.2 321.7L182.5 324.1L183.8 326.6L185.1 329.1L186.5 331.6L187.8 334.1L189.1 336.5L190.3 338.9L191.4 341.0L192.5 343.2L193.5 345.3L194.6 347.4L195.6 349.4L196.6 351.4L197.6 353.3L198.5 355.0L199.1 356.2L199.7 357.3L200.3 358.3L200.9 359.3L201.5 360.3L202.0 361.3L202.6 362.3L203.1 363.3L203.6 364.3L204.2 365.3L204.7 366.3L205.2 367.3L205.7 368.4L206.2 369.4L206.7 370.4L207.2 371.5L207.7 372.7L208.2 373.9L208.8 375.1L209.3 376.4L209.8 377.6L210.3 378.9L210.8 380.2L211.3 381.4L221.0 406.1L230.2 411.2L235.7 412.6" fill="none" stroke="#0000ff" stroke-width="1.45" stroke-linejoin="round" stroke-linecap="butt"/>
<path d="M100.3 360.2L100.4 360.0L100.4 359.8L100.5 359.6L100.6 359.4L100.6 359.3L100.7 359.1L100.8 359.0L100.9 358.9L101.0 358.9L101.2 358.9L101.3 358.9L101.5 358.9L101.7 359.0L101.9 359.1L102.0 359.2L102.2 359.3L102.4 359.5L102.6 359.7L102.8 359.9L102.9 360.2L103.1 360.5L103.3 360.8L103.4 361.1L103.6 361.3L103.7 361.5L103.8 361.7L103.9 361.9L104.0 362.1L104.1 362.2L104.3 362.4L104.4 362.6L104.6 362.7L105.0 362.9L105.6 363.0L106.2 363.1L106.9 363.1L107.6 363.1L108.4 363.1L109.2 363.1L110.0 363.1L111.3 363.2L112.8 363.2L114.4 363.3L116.1 363.3L117.8 363.4L119.5 363.4L121.2 363.5L122.8 363.5L124.2 363.5L125.6 363.6L127.0 363.6L128.4 363.7L129.7 363.8L131.1 363.8L132.5 363.9L134.0 363.9L135.7 364.0L137.3 364.0L139.0 364.0L140.7 364.1L142.5 364.1L144.2 364.2L146.1 364.2L148.0 364.3L150.5 364.4L153.1 364.5L155.8 364.6L158.6 364.7L161.4 364.8L164.3 364.9L167.1 365.0L170.0 365.1L173.0 365.2L176.1 365.3L179.3 365.3L182.4 365.4L185.6 365.5L188.7 365.5L191.9 365.6L195.0 365.7L198.3 365.8L201.7 365.9L205.2 365.9L208.7 366.0L212.0 366.1L215.1 366.2L217.8 366.3L220.0 366.4L220.8 366.5L221.4 366.5L222.0 366.6L222.5 366.6L223.0 366.7L223.6 366.8L224.2 366.8L225.0 366.9L226.9 367.0L229.1 367.2L231.6 367.3L234.3 367.4L237.1 367.6L239.9 367.7L242.5 367.8L245.0 368.0L246.9 368.1L248.8 368.3L250.6 368.4L252.3 368.5L254.1 368.7L255.9 368.8L257.9 369.0L260.0 369.2L263.3 369.5L266.8 369.9L270.5 370.3L274.4 370.7L278.3 371.1L282.3 371.5L286.2 372.0L290.0 372.4L293.9 372.8L297.9 373.2L302.0 373.7L306.1 374.1L310.0 374.5L313.7 375.0L317.1 375.4L320.0 375.8L321.4 376.0L322.6 376.2L323.8 376.4L324.8 376.7L325.9 376.9L326.9 377.1L327.9 377.3L329.0 377.5L330.1 377.7L331.3 377.9L332.4 378.1L333.6 378.4L334.7 378.6L335.8 378.8L337.0 379.1L338.1 379.3L339.2 379.6L340.4 379.8L341.5 380.1L342.6 380.4L343.7 380.7L344.9 381.0L346.0 381.3L347.1 381.6L348.2 381.9L349.4 382.2L350.5 382.6L351.6 382.9L352.7 383.2L353.9 383.6L355.0 383.9L356.1 384.3L357.2 384.7L358.4 385.0L359.5 385.4L360.7 385.8L361.8 386.2L362.9 386.6L364.1 387.0L365.2 387.4L366.3 387.9L367.4 388.4L368.5 388.9L369.6 389.3L370.7 389.8L371.8 390.3L372.9 390.8L374.0 391.3L375.1 391.8L376.3 392.3L377.4 392.8L378.5 393.3L379.7 393.9L380.8 394.4L382.0 394.9L383.1 395.4L384.2 395.9L385.4 396.4L386.5 396.9L387.6 397.5L388.7 398.0L389.9 398.5L391.0 399.0L392.1 399.5L393.2 400.0L394.3 400.5L395.5 401.0L396.6 401.5L397.7 402.0L398.8 402.5L400.0 403.0L401.1 403.5L402.2 404.0L403.4 404.5L404.5 405.0L405.6 405.5L406.8 406.0L407.9 406.5L409.1 407.1L410.2 407.6L411.4 408.2L412.5 408.7L413.7 409.3L414.9 409.9L416.1 410.5L417.2 411.1L418.4 411.7L419.6 412.3 M100.3 360.2L100.4 360.0L100.4 359.8L100.5 359.6L100.6 359.4L100.6 359.3L100.7 359.1L100.8 359.0L100.9 358.9L101.0 358.9L101.2 358.9L101.3 358.9L101.5 358.9L101.7 359.0L101.9 359.1L102.0 359.2L102.2 359.3L102.4 359.5L102.6 359.7L102.8 359.9L102.9 360.2L103.1 360.5L103.3 360.8L103.4 361.0L103.6 361.3L103.7 361.5L103.8 361.7L104.0 361.9L104.1 362.1L104.2 362.4L104.3 362.5L104.4 362.7L104.6 362.9L104.8 363.1L104.9 363.2L105.1 363.3L105.3 363.5L105.5 363.6L105.8 363.7L106.0 363.8L106.3 363.9L106.8 364.0L107.4 364.2L108.1 364.2L108.8 364.3L109.6 364.4L110.4 364.4L111.2 364.4L112.0 364.5L113.2 364.6L114.4 364.6L115.8 364.7L117.1 364.8L118.6 364.8L120.0 364.9L121.4 364.9L122.8 365.0L124.3 365.1L125.8 365.2L127.3 365.3L128.8 365.3L130.4 365.4L131.9 365.5L133.5 365.6L135.0 365.7L136.6 365.8L138.1 365.9L139.7 365.9L141.3 366.0L142.9 366.1L144.5 366.2L146.2 366.3L148.0 366.4L150.5 366.6L153.1 366.7L155.8 366.9L158.6 367.1L161.4 367.3L164.3 367.5L167.1 367.6L170.0 367.8L173.0 368.0L176.1 368.1L179.2 368.2L182.3 368.4L185.4 368.5L188.6 368.6L191.7 368.8L194.8 369.0L198.1 369.2L201.5 369.5L205.1 369.8L208.6 370.1L212.0 370.4L215.1 370.7L217.8 370.9L220.0 371.1L220.8 371.2L221.4 371.2L222.0 371.3L222.5 371.3L223.0 371.3L223.6 371.4L224.2 371.4L225.0 371.5L226.9 371.7L229.1 371.9L231.6 372.2L234.3 372.4L237.1 372.7L239.9 373.0L242.5 373.3L245.0 373.5L246.9 373.7L248.8 373.8L250.6 374.0L252.3 374.1L254.1 374.2L255.9 374.4L257.9 374.6L260.0 374.8L263.3 375.2L266.8 375.6L270.5 376.1L274.4 376.6L278.3 377.1L282.3 377.7L286.2 378.2L290.0 378.7L293.8 379.2L297.7 379.7L301.6 380.2L305.5 380.7L309.3 381.2L313.0 381.7L316.6 382.2L320.0 382.7L322.5 383.1L324.9 383.5L327.1 383.9L329.3 384.4L331.5 384.8L333.7 385.2L335.9 385.7L338.1 386.1L340.4 386.5L342.8 387.0L345.1 387.5L347.5 388.0L349.8 388.4L352.0 388.9L354.2 389.3L356.1 389.7L357.4 390.0L358.5 390.2L359.7 390.4L360.7 390.6L361.8 390.8L362.8 391.0L363.9 391.3L365.0 391.5L366.1 391.8L367.2 392.0L368.4 392.3L369.5 392.6L370.6 392.8L371.7 393.1L372.9 393.4L374.0 393.7L375.1 394.0L376.3 394.3L377.4 394.6L378.6 395.0L379.7 395.3L380.8 395.6L382.0 396.0L383.1 396.3L384.2 396.7L385.4 397.0L386.5 397.4L387.6 397.8L388.7 398.2L389.9 398.5L391.0 398.9L392.1 399.3L393.2 399.7L394.3 400.1L395.5 400.5L396.6 400.9L397.7 401.2L398.8 401.6L400.0 402.0L401.1 402.4L402.2 402.8L403.4 403.1L404.5 403.5L405.6 403.9L406.8 404.2L407.9 404.6L409.1 404.9L410.2 405.3L411.3 405.7L412.5 406.0L413.7 406.4L414.8 406.7L416.0 407.1L417.1 407.4L418.2 407.7L419.2 408.0L420.0 408.2L420.7 408.4L421.4 408.6L422.1 408.8L422.8 408.9L423.5 409.1L424.3 409.2L425.0 409.4L425.9 409.6L426.7 409.7L427.6 409.9L428.5 410.0L429.4 410.2L430.3 410.3L431.2 410.5L432.2 410.6L433.4 410.8L434.7 410.9L436.0 411.0L437.3 411.2L438.7 411.3L440.0 411.4L441.4 411.5L442.7 411.6L444.0 411.7L445.3 411.8L446.6 411.8L447.8 411.9L449.1 411.9L450.5 412.0L451.9 412.0L453.3 412.1L455.2 412.2L457.1 412.3L459.1 412.3L461.1 412.4L463.2 412.5L465.4 412.5L467.6 412.6L470.0 412.6L473.5 412.7L477.2 412.7L481.1 412.7L485.1 412.7L489.3 412.7L493.4 412.7L497.5 412.7L501.5 412.6 M100.3 360.2L100.4 360.0L100.4 359.8L100.5 359.6L100.6 359.4L100.6 359.3L100.7 359.1L100.8 359.0L100.9 358.9L101.0 358.9L101.2 358.9L101.3 358.9L101.5 358.9L101.7 359.0L101.9 359.1L102.0 359.2L102.2 359.3L102.4 359.5L102.6 359.7L102.8 359.9L102.9 360.2L103.1 360.5L103.3 360.8L103.4 361.0L103.6 361.3L103.8 361.5L103.9 361.8L104.0 362.0L104.1 362.3L104.3 362.5L104.4 362.8L104.6 363.0L104.8 363.3L105.1 363.6L105.4 364.0L105.8 364.4L106.2 364.7L106.6 365.1L107.0 365.4L107.4 365.7L107.9 366.0L108.4 366.2L109.0 366.4L109.6 366.6L110.2 366.8L110.9 366.9L111.6 367.0L112.3 367.1L113.0 367.2L114.1 367.3L115.2 367.5L116.4 367.6L117.6 367.7L118.9 367.7L120.2 367.8L121.5 367.9L122.8 368.0L124.3 368.1L125.7 368.2L127.3 368.4L128.8 368.5L130.3 368.6L131.9 368.7L133.4 368.9L135.0 369.0L136.6 369.1L138.1 369.3L139.7 369.4L141.3 369.5L142.9 369.7L144.5 369.8L146.2 370.0L148.0 370.1L150.5 370.3L153.1 370.4L155.8 370.6L158.6 370.8L161.4 370.9L164.3 371.1L167.1 371.3L170.0 371.5L173.0 371.7L176.1 372.0L179.2 372.2L182.3 372.5L185.4 372.7L188.6 373.0L191.7 373.3L194.8 373.6L198.1 373.9L201.5 374.3L205.1 374.7L208.6 375.1L212.0 375.4L215.1 375.8L217.8 376.1L220.0 376.3L220.8 376.4L221.4 376.4L222.0 376.5L222.5 376.5L223.1 376.5L223.6 376.6L224.2 376.6L225.0 376.7L226.9 376.9L229.1 377.2L231.7 377.5L234.3 377.9L237.1 378.2L239.9 378.6L242.5 378.9L245.0 379.2L246.9 379.4L248.8 379.6L250.6 379.8L252.3 379.9L254.1 380.1L255.9 380.3L257.9 380.5L260.0 380.7L263.3 381.1L266.8 381.5L270.5 382.0L274.4 382.5L278.3 383.0L282.3 383.5L286.2 384.0L290.0 384.5L293.8 385.0L297.7 385.5L301.6 386.0L305.5 386.4L309.3 386.9L313.0 387.4L316.6 387.9L320.0 388.4L322.5 388.8L324.9 389.2L327.1 389.6L329.3 389.9L331.5 390.3L333.7 390.7L335.9 391.1L338.1 391.5L340.4 391.9L342.8 392.3L345.1 392.7L347.5 393.1L349.8 393.5L352.0 393.9L354.1 394.3L356.1 394.6L357.4 394.8L358.5 395.0L359.7 395.1L360.7 395.3L361.8 395.4L362.8 395.6L363.9 395.7L365.0 395.9L366.1 396.1L367.2 396.3L368.4 396.5L369.5 396.7L370.6 396.9L371.7 397.2L372.9 397.4L374.0 397.6L375.1 397.8L376.3 398.1L377.4 398.3L378.6 398.5L379.7 398.8L380.8 399.0L382.0 399.2L383.1 399.5L384.2 399.8L385.4 400.0L386.5 400.3L387.6 400.6L388.7 400.9L389.9 401.1L391.0 401.4L392.1 401.7L393.2 402.0L394.3 402.3L395.5 402.6L396.6 402.9L397.7 403.1L398.8 403.4L400.0 403.7L401.1 404.0L402.2 404.3L403.4 404.6L404.5 404.8L405.6 405.1L406.8 405.4L407.9 405.6L409.1 405.9L410.2 406.2L411.3 406.5L412.4 406.8L413.5 407.1L414.6 407.4L415.7 407.6L416.8 407.9L418.0 408.2L419.2 408.5L420.8 408.8L422.5 409.2L424.2 409.6L426.0 409.9L427.8 410.2L429.6 410.6L431.4 410.8L433.2 411.1L435.0 411.3L436.8 411.5L438.6 411.7L440.4 411.8L442.2 411.9L444.1 412.0L446.0 412.1L448.0 412.2L450.5 412.3L453.1 412.4L455.8 412.5L458.5 412.5L461.3 412.6L464.1 412.6L467.0 412.6L470.0 412.6L473.7 412.7L477.5 412.7L481.4 412.7L485.4 412.7L489.4 412.7L493.5 412.7L497.5 412.7L501.5 412.6 M100.3 360.2L100.4 360.0L100.4 359.8L100.5 359.6L100.6 359.4L100.6 359.3L100.7 359.1L100.8 359.0L100.9 358.9L101.0 358.9L101.2 358.9L101.3 358.9L101.5 358.9L101.7 359.0L101.9 359.1L102.0 359.2L102.2 359.3L102.4 359.5L102.6 359.7L102.8 359.9L102.9 360.2L103.1 360.5L103.3 360.7L103.4 361.0L103.6 361.3L103.8 361.6L103.9 361.9L104.1 362.2L104.2 362.5L104.4 362.8L104.6 363.1L104.8 363.5L105.0 363.8L105.4 364.3L105.8 364.7L106.2 365.2L106.7 365.7L107.2 366.2L107.7 366.7L108.2 367.1L108.7 367.6L109.2 368.0L109.6 368.5L110.1 368.9L110.6 369.4L111.1 369.8L111.5 370.2L112.0 370.5L112.5 370.8L112.9 371.0L113.2 371.1L113.6 371.3L114.0 371.4L114.4 371.4L114.7 371.5L115.2 371.6L115.6 371.7L116.3 371.8L117.0 372.0L117.8 372.1L118.6 372.3L119.4 372.4L120.2 372.5L121.0 372.6L121.8 372.7L122.5 372.8L123.1 372.8L123.8 372.8L124.5 372.8L125.1 372.9L125.8 372.9L126.4 372.9L127.0 373.0L127.5 373.1L128.0 373.2L128.6 373.3L129.1 373.4L129.5 373.5L130.0 373.6L130.5 373.7L131.0 373.8L131.4 373.9L131.9 374.0L132.4 374.1L132.8 374.1L133.2 374.2L133.7 374.3L134.0 374.5L134.4 374.6L134.6 374.7L134.8 374.9L135.0 375.0L135.2 375.2L135.4 375.3L135.6 375.5L135.8 375.6L136.0 375.7L136.4 375.8L136.8 375.9L137.3 376.0L137.8 376.0L138.3 376.1L138.9 376.1L139.4 376.2L140.0 376.2L140.9 376.3L141.8 376.3L142.7 376.4L143.7 376.5L144.8 376.5L145.8 376.6L146.9 376.6L148.0 376.7L149.4 376.8L150.9 376.8L152.4 376.9L153.9 377.0L155.5 377.0L157.0 377.1L158.5 377.1L160.0 377.2L161.3 377.3L162.6 377.3L163.8 377.3L165.1 377.4L166.3 377.5L167.5 377.5L168.8 377.6L170.0 377.7L171.2 377.8L172.5 378.0L173.7 378.1L174.9 378.3L176.1 378.5L177.4 378.7L178.7 378.8L180.0 379.0L181.7 379.2L183.4 379.4L185.2 379.6L187.0 379.7L188.8 379.9L190.8 380.1L192.7 380.4L194.8 380.6L197.8 381.0L201.1 381.4L204.6 381.9L208.2 382.4L211.7 382.8L214.9 383.3L217.7 383.6L220.0 383.9L220.8 384.0L221.4 384.1L222.0 384.1L222.5 384.2L223.0 384.2L223.6 384.3L224.2 384.3L225.0 384.4L226.9 384.6L229.1 384.9L231.6 385.2L234.3 385.5L237.1 385.9L239.9 386.2L242.5 386.5L245.0 386.8L246.9 387.0L248.8 387.2L250.6 387.4L252.3 387.5L254.1 387.7L255.9 387.9L257.9 388.1L260.0 388.3L263.3 388.7L266.8 389.1L270.5 389.6L274.4 390.1L278.3 390.6L282.3 391.1L286.2 391.5L290.0 392.0L293.8 392.4L297.7 392.8L301.6 393.3L305.5 393.7L309.3 394.1L313.0 394.4L316.6 394.8L320.0 395.2L322.5 395.5L324.9 395.8L327.3 396.1L329.6 396.3L331.8 396.6L333.9 396.9L336.0 397.1L338.1 397.4L339.7 397.6L341.3 397.8L342.8 398.0L344.3 398.2L345.8 398.4L347.3 398.6L348.8 398.8L350.4 399.0L352.2 399.2L354.0 399.4L355.9 399.7L357.8 399.9L359.7 400.1L361.6 400.4L363.3 400.6L365.0 400.8L366.2 401.0L367.4 401.1L368.5 401.3L369.6 401.5L370.7 401.7L371.8 401.8L372.9 402.0L374.0 402.2L375.1 402.4L376.3 402.6L377.4 402.8L378.6 403.0L379.7 403.2L380.8 403.4L382.0 403.6L383.1 403.8L384.2 404.0L385.4 404.2L386.5 404.4L387.6 404.6L388.7 404.7L389.9 404.9L391.0 405.1L392.1 405.3L393.2 405.5L394.3 405.7L395.5 405.8L396.6 406.0L397.7 406.2L398.8 406.3L400.0 406.5L401.1 406.7L402.2 406.9L403.4 407.1L404.5 407.3L405.7 407.4L406.8 407.6L407.9 407.8L409.1 408.0L410.2 408.2L411.3 408.4L412.4 408.6L413.5 408.8L414.6 409.0L415.7 409.2L416.8 409.4L418.0 409.6L419.2 409.8L420.8 410.0L422.4 410.2L424.2 410.4L425.9 410.6L427.7 410.8L429.5 411.0L431.4 411.1L433.2 411.3L435.2 411.5L437.3 411.6L439.3 411.7L441.4 411.8L443.5 411.9L445.7 412.0L447.8 412.1L450.0 412.2L452.4 412.3L454.8 412.4L457.2 412.4L459.6 412.5L462.1 412.5L464.6 412.6L467.3 412.6L470.0 412.6L473.6 412.7L477.4 412.7L481.3 412.7L485.3 412.7L489.4 412.7L493.5 412.7L497.5 412.7L501.5 412.6" fill="none" stroke="#000000" stroke-width="1.35" stroke-linejoin="round" stroke-linecap="butt"/>
<path d="M100.9 359.7L104.2 362.2" fill="none" stroke="#000" stroke-width="3.5" stroke-linecap="round"/>
<rect x="94.25" y="21.7" width="463.79999999999995" height="400.5" fill="none" stroke="#000" stroke-width="1.65"/>
<text x="96.8" y="448" font-size="19.5" text-anchor="middle">0</text>
<text x="151.3" y="448" font-size="19.5" text-anchor="middle">200</text>
<text x="205.8" y="448" font-size="19.5" text-anchor="middle">400</text>
<text x="260.3" y="448" font-size="19.5" text-anchor="middle">600</text>
<text x="314.8" y="448" font-size="19.5" text-anchor="middle">800</text>
<text x="369.3" y="448" font-size="19.5" text-anchor="middle">1000</text>
<text x="423.8" y="448" font-size="19.5" text-anchor="middle">1200</text>
<text x="478.3" y="448" font-size="19.5" text-anchor="middle">1400</text>
<text x="532.8" y="448" font-size="19.5" text-anchor="middle">1600</text>
<text x="82.5" y="418.9" font-size="19.5" text-anchor="end">0</text>
<text x="82.5" y="321.2" font-size="19.5" text-anchor="end">0.1</text>
<text x="82.5" y="223.5" font-size="19.5" text-anchor="end">0.2</text>
<text x="82.5" y="125.8" font-size="19.5" text-anchor="end">0.3</text>
<text x="82.5" y="28.1" font-size="19.5" text-anchor="end">0.4</text>
<text x="574.3" y="418.3" font-size="19.5" text-anchor="start">0</text>
<text x="574.3" y="358.8" font-size="19.5" text-anchor="start">0.02</text>
<text x="574.3" y="299.3" font-size="19.5" text-anchor="start">0.04</text>
<text x="574.3" y="239.9" font-size="19.5" text-anchor="start">0.06</text>
<text x="574.3" y="180.4" font-size="19.5" text-anchor="start">0.08</text>
<text x="574.3" y="120.9" font-size="19.5" text-anchor="start">0.10</text>
<text x="574.3" y="61.4" font-size="19.5" text-anchor="start">0.12</text>
<text x="315.6" y="478.3" font-size="24"><tspan font-style="italic">T</tspan> [K]</text>
<g fill="#000" stroke="none"><path d="M4.88 228.18L5.13 228.33L5.38 228.50L5.63 228.66L5.89 228.81L6.16 228.95L6.46 229.07L6.89 229.19L7.35 229.27L7.84 229.32L8.35 229.37L8.89 229.43L9.44 229.52L10.19 229.66L11.00 229.83L11.84 230.01L12.70 230.20L13.56 230.40L14.39 230.61L15.23 230.82L16.07 231.04L16.92 231.26L17.75 231.50L18.56 231.74L19.35 232.00L20.06 232.24L20.76 232.48L21.45 232.73L22.11 232.99L22.74 233.28L23.32 233.58L23.78 233.86L24.23 234.16L24.66 234.47L25.05 234.79L25.40 235.12L25.70 235.47L25.89 235.76L26.04 236.07L26.16 236.39L26.27 236.71L26.37 237.03L26.49 237.35L25.60 237.95L25.47 237.74L25.35 237.54L25.24 237.33L25.11 237.13L24.97 236.93L24.81 236.76L24.61 236.58L24.39 236.42L24.16 236.28L23.90 236.14L23.62 236.00L23.32 235.87L22.78 235.65L22.17 235.44L21.49 235.24L20.79 235.04L20.07 234.85L19.35 234.68L18.56 234.50L17.74 234.35L16.91 234.20L16.07 234.06L15.23 233.91L14.39 233.73L13.55 233.54L12.69 233.32L11.82 233.10L10.98 232.87L10.18 232.63L9.44 232.39L8.90 232.21L8.38 232.04L7.89 231.85L7.42 231.66L6.98 231.45L6.56 231.20L6.22 230.96L5.91 230.69L5.62 230.40L5.34 230.10L5.07 229.81L4.78 229.52Z"/><circle cx="6.76" cy="226.05" r="1.4"/><circle cx="24.61" cy="238.59" r="1.4"/></g>
<path d="M6.96 226.20L6.75 226.16L6.53 226.10L6.31 226.05L6.09 226.01L5.90 226.00L5.72 226.05L5.55 226.16L5.40 226.32L5.26 226.51L5.14 226.73L5.05 226.96L4.97 227.19L4.92 227.46L4.89 227.75L4.89 228.06L4.92 228.37L4.98 228.66L5.07 228.92L5.20 229.14L5.38 229.34L5.58 229.53L5.80 229.70L6.01 229.88L6.21 230.06" fill="none" stroke="#000" stroke-width="1.4" stroke-linecap="round"/>
<path d="M25.20 235.96L25.37 236.15L25.55 236.34L25.73 236.53L25.89 236.71L26.02 236.91L26.10 237.10L26.12 237.30L26.10 237.50L26.06 237.71L26.00 237.92L25.91 238.10L25.80 238.24L25.66 238.35L25.49 238.43L25.30 238.49L25.10 238.54L24.90 238.58L24.71 238.64" fill="none" stroke="#000" stroke-width="1.4" stroke-linecap="round"/>
<path d="M11.17 227.83L11.17 234.77" fill="none" stroke="#000" stroke-width="1.25"/>
<text transform="translate(27.9,228.2) rotate(-90) scale(1,1.12)" font-size="15.5">tar</text>
<text transform="translate(655.3,239.9) rotate(-90) scale(0.89,1)" font-size="25" font-style="italic">X</text>
<text transform="translate(661.2,223.6) rotate(-90) scale(1,1.12)" font-size="15.5">tar</text>
<text class="sans" x="119.0" y="78.8" font-size="24" letter-spacing="0.5">(a)</text>
<path d="M185.2 99.8H219.0" stroke="#000" stroke-width="1.35"/>
<circle cx="200.9" cy="99.8" r="3.8" fill="#000"/>
<text x="200.3" y="91.7" font-size="14.5" font-style="italic" text-anchor="middle">Mars</text>
<path d="M219.0 119.3H265.0" stroke="#000" stroke-width="1.35"/>
<circle cx="239.5" cy="119.3" r="3.8" fill="#000"/>
<text x="239.3" y="111.3" font-size="14.5" font-style="italic" text-anchor="middle">Earth</text>
<path d="M283.2 99.8H413.5" stroke="#000" stroke-width="1.35"/>
<circle cx="340.1" cy="99.8" r="3.8" fill="#000"/>
<text x="340.0" y="91.7" font-size="14.5" font-style="italic" text-anchor="middle">Venus</text>
<path d="M431.0 119.3H558.5" stroke="#000" stroke-width="1.35"/>
<circle cx="531.3" cy="119.3" r="3.8" fill="#000"/>
<text x="530.9" y="111.1" font-size="14.5" font-style="italic" text-anchor="middle">Mercury</text>
</svg>
</body></html>
